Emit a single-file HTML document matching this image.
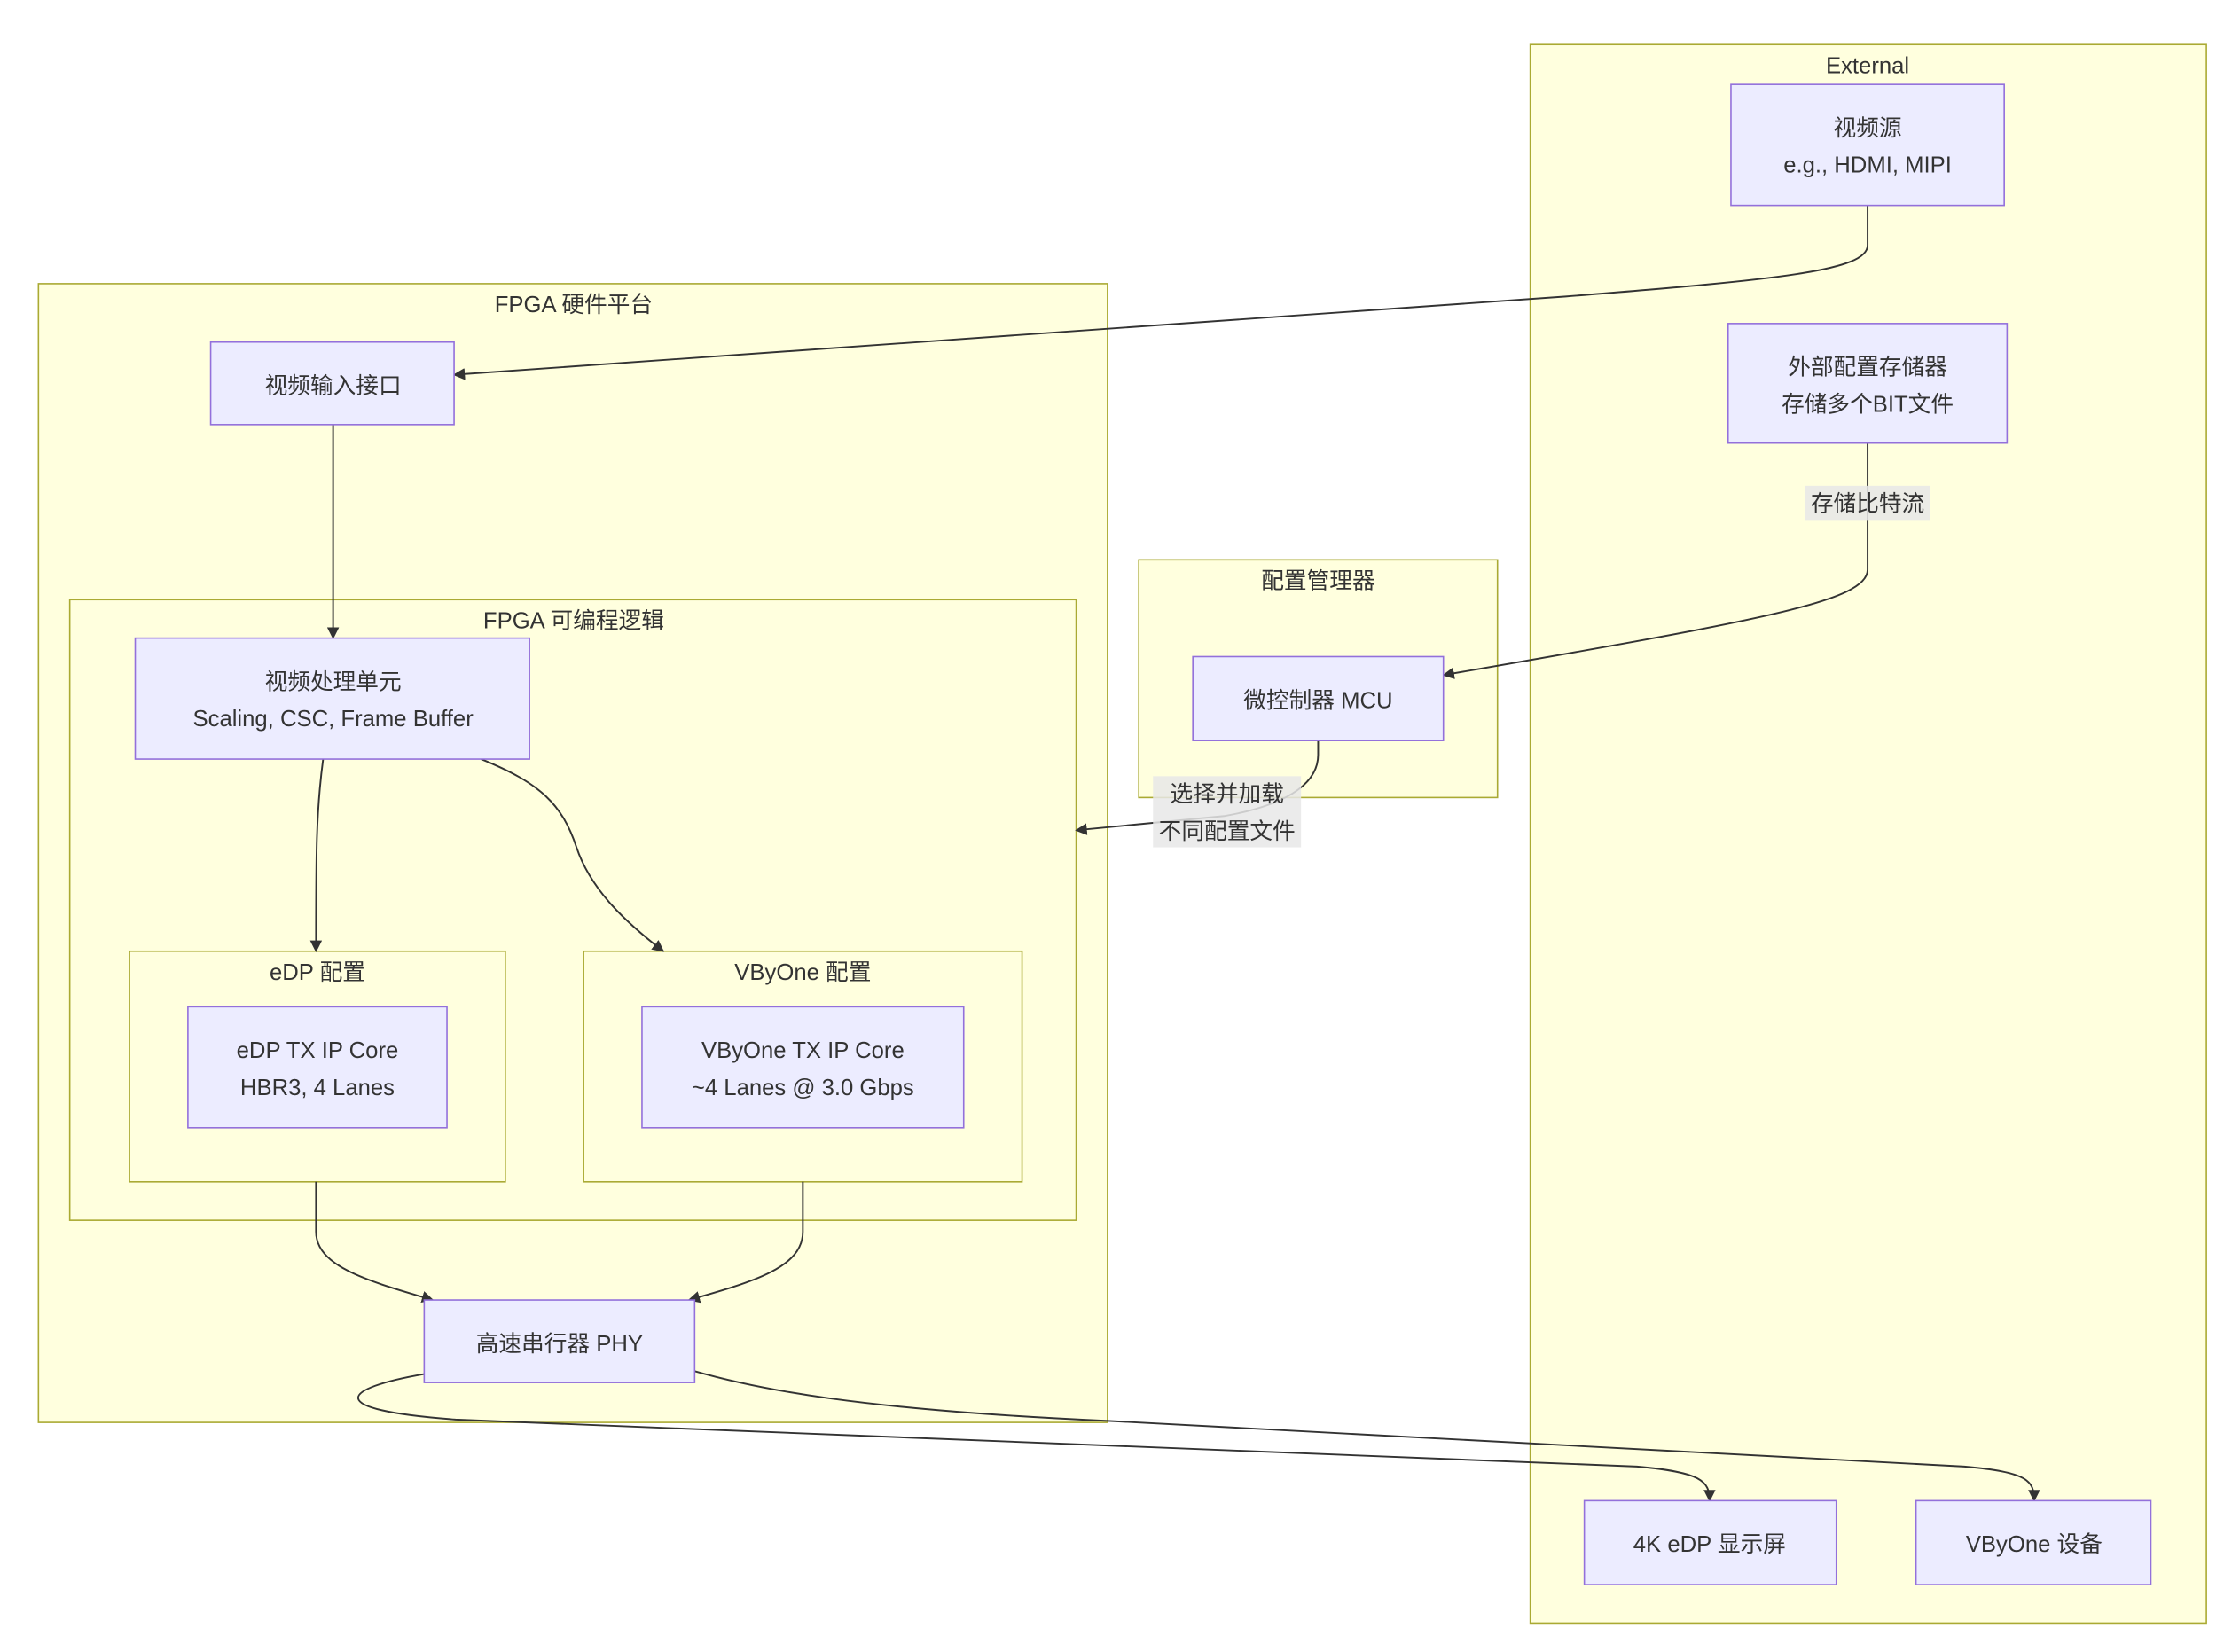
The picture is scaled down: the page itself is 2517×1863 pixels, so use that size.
<!DOCTYPE html>
<html><head><meta charset="utf-8"><style>
html,body{margin:0;padding:0;background:#fff;}
svg{display:block;}
text{font-family:"Liberation Sans","Noto Sans CJK SC",sans-serif;font-size:16px;fill:#333;text-anchor:middle;}
.c{fill:#ffffde;stroke:#aaaa33;stroke-width:1;}
.n{fill:#ECECFF;stroke:#9370DB;stroke-width:1;}
.e{fill:none;stroke:#333;stroke-width:1.2;}
.lb{fill:#e8e8e8;opacity:0.85;}
</style></head><body>
<svg width="2517" height="1863" viewBox="0 0 1568 1160" xmlns="http://www.w3.org/2000/svg">
<defs><marker id="a" viewBox="0 0 10 10" refX="9" refY="5" markerWidth="7" markerHeight="7" orient="auto-start-reverse"><path d="M0,0 L10,5 L0,10 z" fill="#333"/></marker></defs>
<!-- clusters -->
<rect class="c" x="1075" y="31" width="475" height="1109"/>
<text x="1312" y="51">External</text>
<rect class="c" x="27" y="199" width="751" height="800"/>
<text x="403" y="219">FPGA 硬件平台</text>
<rect class="c" x="800" y="393" width="252" height="167"/>
<text x="926" y="413">配置管理器</text>
<rect class="c" x="49" y="421" width="707" height="436"/>
<text x="403" y="441">FPGA 可编程逻辑</text>
<rect class="c" x="91" y="668" width="264" height="162"/>
<text x="223" y="688">eDP 配置</text>
<rect class="c" x="410" y="668" width="308" height="162"/>
<text x="564" y="688">VByOne 配置</text>
<!-- edges -->
<path class="e" marker-end="url(#a)" d="M1312,144 V172 C1312,190 1250,196 1100,208 L319,263"/>
<path class="e" marker-end="url(#a)" d="M234,298 V448"/>
<path class="e" marker-end="url(#a)" d="M1312,311 V400 C1312,422 1240,435 1014,474"/>
<path class="e" marker-end="url(#a)" d="M926,520 V530 C926,552 900,566 860,573 L756,583"/>
<path class="e" marker-end="url(#a)" d="M227,533 C222,570 222,600 222,668"/>
<path class="e" marker-end="url(#a)" d="M338,533 C380,550 395,565 405,595 C415,625 440,648 466,668"/>
<path class="e" marker-end="url(#a)" d="M222,830 V865 C222,890 260,900 304,913"/>
<path class="e" marker-end="url(#a)" d="M564,830 V865 C564,890 530,900 484,913"/>
<path class="e" marker-end="url(#a)" d="M298,965 C240,975 225,990 320,997 L1150,1030 C1195,1034 1201,1040 1201,1054"/>
<path class="e" marker-end="url(#a)" d="M488,963 C530,975 600,990 780,998 L1380,1030 C1425,1034 1429,1040 1429,1054"/>
<!-- edge labels -->
<rect class="lb" x="1268" y="341" width="88" height="24"/>
<text x="1312" y="359">存储比特流</text>
<rect class="lb" x="810" y="545" width="104" height="50"/>
<text x="862" y="563">选择并加载</text>
<text x="862" y="589">不同配置文件</text>
<!-- nodes -->
<rect class="n" x="1216" y="59" width="192" height="85"/>
<text x="1312" y="95">视频源</text>
<text x="1312" y="121">e.g., HDMI, MIPI</text>
<rect class="n" x="1214" y="227" width="196" height="84"/>
<text x="1312" y="263">外部配置存储器</text>
<text x="1312" y="289">存储多个BIT文件</text>
<rect class="n" x="1113" y="1054" width="177" height="59"/>
<text x="1201" y="1090">4K eDP 显示屏</text>
<rect class="n" x="1346" y="1054" width="165" height="59"/>
<text x="1429" y="1090">VByOne 设备</text>
<rect class="n" x="148" y="240" width="171" height="58"/>
<text x="234" y="276">视频输入接口</text>
<rect class="n" x="95" y="448" width="277" height="85"/>
<text x="234" y="484">视频处理单元</text>
<text x="234" y="510">Scaling, CSC, Frame Buffer</text>
<rect class="n" x="132" y="707" width="182" height="85"/>
<text x="223" y="743">eDP TX IP Core</text>
<text x="223" y="769">HBR3, 4 Lanes</text>
<rect class="n" x="451" y="707" width="226" height="85"/>
<text x="564" y="743">VByOne TX IP Core</text>
<text x="564" y="769">~4 Lanes @ 3.0 Gbps</text>
<rect class="n" x="298" y="913" width="190" height="58"/>
<text x="393" y="949">高速串行器 PHY</text>
<rect class="n" x="838" y="461" width="176" height="59"/>
<text x="926" y="497">微控制器 MCU</text>
</svg>
</body></html>
